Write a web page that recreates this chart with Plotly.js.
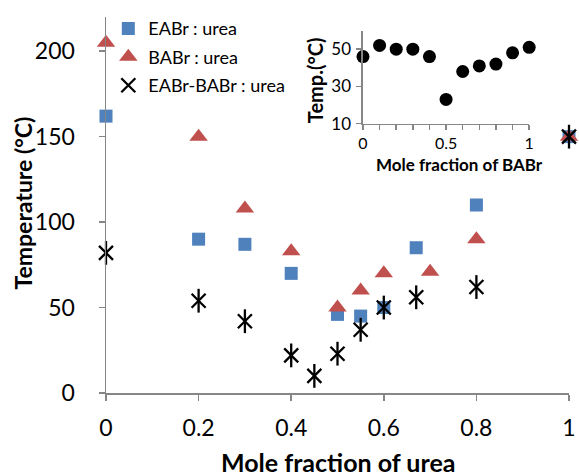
<!DOCTYPE html>
<html><head><meta charset="utf-8">
<script src="https://cdn.plot.ly/plotly-3.0.1.min.js"></script>
<style>body{margin:0;background:#fff}#chart{width:579px;height:476px}</style>
</head><body><div id="chart"></div>
<script>
// Main chart data
const eabrX = [0, 0.2, 0.3, 0.4, 0.5, 0.55, 0.6, 0.67, 0.8, 1];
const eabrY = [162, 90, 87, 70, 46, 45, 50, 85, 110, 150];
const babrX = [0, 0.2, 0.3, 0.4, 0.5, 0.55, 0.6, 0.7, 0.8, 1];
const babrY = [205, 150, 108, 83, 50, 60, 70, 71, 90, 150];
const mixX = [0, 0.2, 0.3, 0.4, 0.45, 0.5, 0.55, 0.6, 0.67, 0.8, 1];
const mixY = [82, 54, 42, 22, 10, 23, 37, 50, 56, 62, 150];
// Inset data
const insetX = [0, 0.1, 0.2, 0.3, 0.4, 0.5, 0.6, 0.7, 0.8, 0.9, 1];
const insetY = [46, 52, 50, 50, 46, 23, 38, 41, 42, 48, 51];
// Titles
const xTitle = 'Mole fraction of urea';
const yTitle = 'Temperature (°C)';
const insetXTitle = 'Mole fraction of BABr';
const insetYTitle = 'Temp.(°C)';

const FONT = 'Lato, "Open Sans", sans-serif';
const AX = '#868686';

const traces = [
  {x: eabrX, y: eabrY, type: 'scatter', mode: 'markers', name: 'EABr : urea', legendgroup: 'a',
   cliponaxis: false, marker: {symbol: 'square', size: 13, color: '#4F81BD'}},
  {x: babrX, y: babrY, type: 'scatter', mode: 'markers', name: 'BABr : urea', legendgroup: 'b',
   cliponaxis: false, marker: {symbol: 'triangle-up', size: 16, color: '#C0504D'}},
  {x: mixX, y: mixY, type: 'scatter', mode: 'markers', name: 'EABr-BABr : urea', legendgroup: 'c',
   cliponaxis: false, marker: {symbol: 'x-thin-open', size: 14, color: '#000', line: {width: 2.3, color: '#000'}}},
  {x: mixX, y: mixY, type: 'scatter', mode: 'markers', name: 'EABr-BABr : urea', legendgroup: 'c', showlegend: false,
   cliponaxis: false, marker: {symbol: 'line-ns-open', size: 17, color: '#000', line: {width: 2.3, color: '#000'}}},
  {x: insetX, y: insetY, type: 'scatter', mode: 'markers', xaxis: 'x2', yaxis: 'y2', showlegend: false,
   cliponaxis: false, marker: {symbol: 'circle', size: 13, color: '#000'}}
];

const layout = {
  width: 579, height: 476,
  margin: {l: 106, r: 10, t: 12, b: 83},
  paper_bgcolor: '#fff', plot_bgcolor: '#fff',
  font: {family: FONT, color: '#000'},
  showlegend: true,
  legend: {x: 0.005, y: 1.018, xanchor: 'left', yanchor: 'top', bgcolor: 'rgba(0,0,0,0)',
           font: {size: 18, family: FONT, color: '#000'}, traceorder: 'grouped', tracegroupgap: 2},
  xaxis: {range: [0, 1], dtick: 0.2, showgrid: false, zeroline: false, showline: true, linecolor: AX, linewidth: 1.5,
          ticks: 'outside', ticklen: 6, tickcolor: AX, tickwidth: 1.5, tickfont: {size: 23},
          ticklabelstandoff: 8},
  yaxis: {range: [0, 220], dtick: 50, showgrid: false, zeroline: false, showline: true, linecolor: AX, linewidth: 1.5,
          ticks: 'outside', ticklen: 6, tickcolor: AX, tickwidth: 1.5, tickfont: {size: 23},
          ticklabelstandoff: 19},
  xaxis2: {domain: [0.555, 0.914], anchor: 'y2', range: [0, 1], dtick: 0.5, showgrid: false, zeroline: false,
           showline: true, linecolor: AX, linewidth: 1.5, ticks: 'outside', ticklen: 5, tickcolor: AX, tickwidth: 1.5,
           minor: {dtick: 0.1, ticks: 'outside', ticklen: 5, tickcolor: AX, tickwidth: 1.5},
           tickfont: {size: 16}, ticklabelstandoff: 0},
  yaxis2: {domain: [0.7165, 0.964], anchor: 'x2', range: [10, 60], tickvals: [10, 30, 50], showgrid: false, zeroline: false,
           showline: true, linecolor: AX, linewidth: 1.5, ticks: 'outside', ticklen: 5, tickcolor: AX, tickwidth: 1.5,
           tickfont: {size: 17}, ticklabelstandoff: 2},
  annotations: [
    {text: '<b>' + xTitle + '</b>', xref: 'paper', yref: 'paper', x: 0.5, y: (393 - 463) / 381,
     xanchor: 'center', yanchor: 'middle', showarrow: false, font: {size: 25}},
    {text: '<b>' + yTitle + '</b>', xref: 'paper', yref: 'paper', x: (23 - 106) / 463, y: (393 - 201) / 381,
     xanchor: 'center', yanchor: 'middle', showarrow: false, textangle: -90, font: {size: 23}},
    {text: '<b>' + insetXTitle + '</b>', xref: 'paper', yref: 'paper', x: (459 - 106) / 463, y: (393 - 161) / 381,
     xanchor: 'center', yanchor: 'middle', showarrow: false, font: {size: 17}},
    {text: '<b>' + insetYTitle + '</b>', xref: 'paper', yref: 'paper', x: (315 - 106) / 463, y: (393 - 76) / 381,
     xanchor: 'center', yanchor: 'middle', showarrow: false, textangle: -90, font: {size: 20}}
  ]
};

Plotly.newPlot('chart', traces, layout, {displayModeBar: false, staticPlot: true});
</script></body></html>
